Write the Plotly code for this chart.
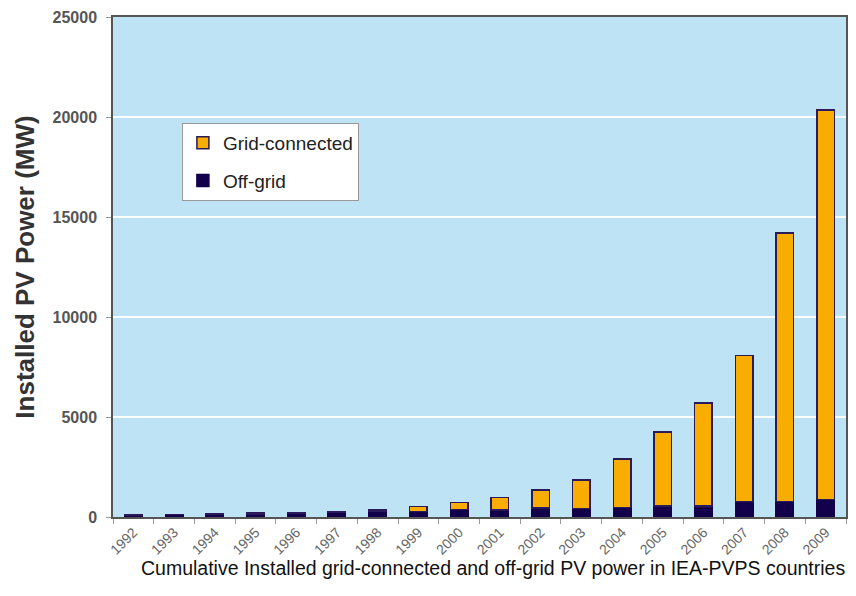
import plotly.graph_objects as go

years = ["1992", "1993", "1994", "1995", "1996", "1997", "1998", "1999", "2000",
         "2001", "2002", "2003", "2004", "2005", "2006", "2007", "2008", "2009"]
off_grid = [95, 115, 140, 160, 185, 220, 300, 270, 380,
            350, 450, 430, 465, 550, 550, 765, 765, 885]
grid_connected = [15, 20, 25, 35, 45, 60, 60, 250, 350,
                  630, 900, 1420, 2440, 3700, 5150, 7300, 13430, 19470]
y_ticks = [0, 5000, 10000, 15000, 20000, 25000]

fig = go.Figure()
fig.add_trace(go.Bar(
    x=years, y=off_grid, name="Off-grid", legendgroup="off", legendrank=2,
    marker=dict(color="#13004B", line=dict(color="#13004B", width=1.5)),
))
fig.add_trace(go.Bar(
    x=years, y=grid_connected, name="Grid-connected", legendgroup="grid", legendrank=1,
    marker=dict(color="#F8AD00", line=dict(color="#2A1A5A", width=1.5)),
))

# page body has an 8px margin, so the figure is sized/shifted to compensate
fig.update_layout(
    barmode="stack",
    bargap=0.57,
    width=840, height=580,
    margin=dict(l=105, r=2, t=9, b=71, autoexpand=False),
    paper_bgcolor="white",
    plot_bgcolor="#BEE3F5",
    font=dict(family="Liberation Sans, Arial, sans-serif", color="#444"),
    legend=dict(
        x=0.094, y=0.788, xanchor="left", yanchor="top",
        bgcolor="white", bordercolor="#999", borderwidth=1,
        traceorder="grouped", tracegroupgap=10,
        font=dict(size=19, color="#222"),
        itemwidth=30,
    ),
    showlegend=True,
)
fig.update_yaxes(
    range=[0, 25000], tickvals=y_ticks, ticktext=[str(v) for v in y_ticks],
    automargin=False,
    showgrid=True, gridcolor="white", gridwidth=2,
    showline=True, linecolor="#555", linewidth=1.5, mirror=True,
    ticks="outside", ticklen=5, tickcolor="#999", ticklabelstandoff=6,
    tickfont=dict(size=16, color="#555", weight="bold"),
    zeroline=False,
    title=dict(text="Installed PV Power (MW)", font=dict(size=26, color="#333", weight="bold"), standoff=10),
)
fig.update_xaxes(
    automargin=False,
    showline=True, linecolor="#555", linewidth=1.5, mirror=True,
    ticks="outside", ticklen=5, tickcolor="#999", tickson="boundaries",
    tickangle=-45, tickfont=dict(size=14, color="#666"),
    showgrid=False,
)
fig.add_annotation(
    text="Cumulative Installed grid-connected and off-grid PV power in IEA-PVPS countries",
    xref="paper", yref="paper", x=1.002, y=-0.102, xanchor="right", yanchor="middle",
    showarrow=False, font=dict(size=19.5, color="#111"),
)
fig.write_html("out.html")
